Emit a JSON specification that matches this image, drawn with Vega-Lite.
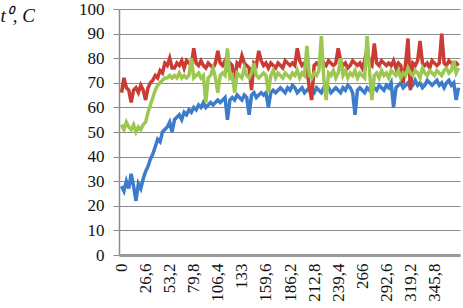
{
  "$schema": "https://vega.github.io/schema/vega-lite/v6.json",
  "width": 341,
  "height": 246,
  "autosize": "none",
  "padding": {"left": 119, "top": 9, "right": 3, "bottom": 53},
  "background": "white",
  "config": {
    "view": {"stroke": null},
    "axisY": {
      "grid": true, "gridColor": "#8c8c8c", "gridWidth": 1.2,
      "domainColor": "#8c8c8c", "domainWidth": 1.5,
      "tickColor": "#8c8c8c", "tickSize": 6,
      "labelFont": "Liberation Serif", "labelFontSize": 17, "labelColor": "#111", "labelPadding": 9,
      "titleAngle": 0, "titleAlign": "left", "titleBaseline": "alphabetic",
      "titleX": -119, "titleY": 12,
      "titleFont": "Liberation Serif", "titleFontStyle": "italic", "titleFontWeight": "normal",
      "titleFontSize": 19, "titleColor": "#111"
    },
    "axisX": {
      "grid": false, "domainColor": "#9a9a9a", "domainWidth": 3,
      "ticks": false,
      "labelAngle": 270, "labelAlign": "right", "labelBaseline": "middle",
      "labelFont": "Liberation Serif", "labelFontSize": 17, "labelColor": "#111", "labelPadding": 8,
      "labelOverlap": false, "labelFlush": false,
      "title": null
    }
  },
  "data": {"values": [
{"x":0,"red":66,"green":53,"blue":28},
{"x":2.66,"red":72,"green":51,"blue":26},
{"x":5.32,"red":68,"green":54,"blue":30},
{"x":7.98,"red":67,"green":52,"blue":27},
{"x":10.64,"red":62,"green":51,"blue":33},
{"x":13.3,"red":67,"green":53,"blue":28},
{"x":15.96,"red":68,"green":50,"blue":22},
{"x":18.62,"red":66,"green":52,"blue":29},
{"x":21.28,"red":69,"green":51,"blue":27},
{"x":23.94,"red":67,"green":53,"blue":31},
{"x":26.6,"red":63,"green":54,"blue":34},
{"x":29.26,"red":68,"green":58,"blue":36},
{"x":31.92,"red":70,"green":61,"blue":39},
{"x":34.58,"red":71,"green":64,"blue":41},
{"x":37.24,"red":73,"green":67,"blue":44},
{"x":39.9,"red":72,"green":69,"blue":47},
{"x":42.56,"red":75,"green":70,"blue":46},
{"x":45.22,"red":74,"green":71,"blue":50},
{"x":47.88,"red":78,"green":72,"blue":51},
{"x":50.54,"red":77,"green":72,"blue":52},
{"x":53.2,"red":80,"green":73,"blue":54},
{"x":55.86,"red":76,"green":72,"blue":50},
{"x":58.52,"red":76,"green":73,"blue":55},
{"x":61.18,"red":78,"green":72,"blue":56},
{"x":63.84,"red":77,"green":74,"blue":57},
{"x":66.5,"red":79,"green":72,"blue":55},
{"x":69.16,"red":76,"green":73,"blue":58},
{"x":71.82,"red":79,"green":72,"blue":57},
{"x":74.48,"red":78,"green":73,"blue":59},
{"x":77.14,"red":77,"green":80,"blue":58},
{"x":79.8,"red":84,"green":72,"blue":60},
{"x":82.46,"red":78,"green":73,"blue":59},
{"x":85.12,"red":77,"green":74,"blue":61},
{"x":87.78,"red":79,"green":72,"blue":60},
{"x":90.44,"red":77,"green":73,"blue":62},
{"x":93.1,"red":76,"green":62,"blue":60},
{"x":95.76,"red":78,"green":72,"blue":61},
{"x":98.42,"red":77,"green":73,"blue":62},
{"x":101.08,"red":76,"green":76,"blue":61},
{"x":103.74,"red":78,"green":72,"blue":62},
{"x":106.4,"red":83,"green":66,"blue":63},
{"x":109.06,"red":78,"green":73,"blue":62},
{"x":111.72,"red":77,"green":74,"blue":63},
{"x":114.38,"red":79,"green":73,"blue":64},
{"x":117.04,"red":76,"green":84,"blue":55},
{"x":119.7,"red":78,"green":72,"blue":63},
{"x":122.36,"red":77,"green":73,"blue":64},
{"x":125.02,"red":70,"green":66,"blue":63},
{"x":127.68,"red":78,"green":74,"blue":65},
{"x":130.34,"red":77,"green":73,"blue":64},
{"x":133,"red":81,"green":72,"blue":63},
{"x":135.66,"red":78,"green":76,"blue":65},
{"x":138.32,"red":77,"green":73,"blue":64},
{"x":140.98,"red":76,"green":72,"blue":57},
{"x":143.64,"red":67,"green":74,"blue":65},
{"x":146.3,"red":78,"green":78,"blue":66},
{"x":148.96,"red":77,"green":73,"blue":64},
{"x":151.62,"red":83,"green":72,"blue":65},
{"x":154.28,"red":79,"green":73,"blue":66},
{"x":156.94,"red":77,"green":74,"blue":65},
{"x":159.6,"red":78,"green":73,"blue":66},
{"x":162.26,"red":76,"green":66,"blue":60},
{"x":164.92,"red":78,"green":73,"blue":66},
{"x":167.58,"red":77,"green":75,"blue":67},
{"x":170.24,"red":76,"green":72,"blue":66},
{"x":172.9,"red":78,"green":74,"blue":67},
{"x":175.56,"red":77,"green":73,"blue":68},
{"x":178.22,"red":76,"green":72,"blue":67},
{"x":180.88,"red":79,"green":74,"blue":66},
{"x":183.54,"red":78,"green":73,"blue":68},
{"x":186.2,"red":77,"green":72,"blue":67},
{"x":188.86,"red":78,"green":74,"blue":69},
{"x":191.52,"red":77,"green":73,"blue":68},
{"x":194.18,"red":84,"green":75,"blue":66},
{"x":196.84,"red":79,"green":72,"blue":67},
{"x":199.5,"red":77,"green":74,"blue":68},
{"x":202.16,"red":78,"green":73,"blue":66},
{"x":204.82,"red":76,"green":85,"blue":67},
{"x":207.48,"red":68,"green":73,"blue":68},
{"x":210.14,"red":63,"green":72,"blue":67},
{"x":212.8,"red":77,"green":74,"blue":66},
{"x":215.46,"red":78,"green":73,"blue":68},
{"x":218.12,"red":77,"green":75,"blue":67},
{"x":220.78,"red":80,"green":89,"blue":66},
{"x":223.44,"red":78,"green":72,"blue":68},
{"x":226.1,"red":77,"green":63,"blue":67},
{"x":228.76,"red":79,"green":74,"blue":68},
{"x":231.42,"red":78,"green":73,"blue":66},
{"x":234.08,"red":77,"green":75,"blue":67},
{"x":236.74,"red":78,"green":72,"blue":68},
{"x":239.4,"red":84,"green":74,"blue":67},
{"x":242.06,"red":79,"green":80,"blue":66},
{"x":244.72,"red":77,"green":73,"blue":68},
{"x":247.38,"red":78,"green":75,"blue":67},
{"x":250.04,"red":76,"green":72,"blue":69},
{"x":252.7,"red":77,"green":74,"blue":68},
{"x":255.36,"red":79,"green":73,"blue":66},
{"x":258.02,"red":78,"green":75,"blue":57},
{"x":260.68,"red":77,"green":72,"blue":67},
{"x":263.34,"red":78,"green":74,"blue":68},
{"x":266,"red":76,"green":73,"blue":67},
{"x":268.66,"red":79,"green":72,"blue":66},
{"x":271.32,"red":84,"green":89,"blue":68},
{"x":273.98,"red":78,"green":75,"blue":67},
{"x":276.64,"red":77,"green":63,"blue":69},
{"x":279.3,"red":86,"green":73,"blue":68},
{"x":281.96,"red":78,"green":74,"blue":67},
{"x":284.62,"red":77,"green":72,"blue":69},
{"x":287.28,"red":79,"green":75,"blue":68},
{"x":289.94,"red":78,"green":73,"blue":67},
{"x":292.6,"red":77,"green":74,"blue":69},
{"x":295.26,"red":78,"green":72,"blue":68},
{"x":297.92,"red":77,"green":75,"blue":70},
{"x":300.58,"red":79,"green":74,"blue":60},
{"x":303.24,"red":76,"green":73,"blue":68},
{"x":305.9,"red":78,"green":75,"blue":69},
{"x":308.56,"red":77,"green":72,"blue":70},
{"x":311.22,"red":70,"green":74,"blue":68},
{"x":313.88,"red":78,"green":73,"blue":69},
{"x":316.54,"red":88,"green":76,"blue":70},
{"x":319.2,"red":67,"green":74,"blue":68},
{"x":321.86,"red":78,"green":73,"blue":69},
{"x":324.52,"red":77,"green":75,"blue":71},
{"x":327.18,"red":79,"green":74,"blue":69},
{"x":329.84,"red":87,"green":72,"blue":70},
{"x":332.5,"red":78,"green":76,"blue":68},
{"x":335.16,"red":77,"green":74,"blue":69},
{"x":337.82,"red":78,"green":73,"blue":71},
{"x":340.48,"red":76,"green":75,"blue":70},
{"x":343.14,"red":79,"green":74,"blue":69},
{"x":345.8,"red":78,"green":73,"blue":70},
{"x":348.46,"red":77,"green":75,"blue":71},
{"x":351.12,"red":78,"green":74,"blue":69},
{"x":353.78,"red":90,"green":73,"blue":70},
{"x":356.44,"red":78,"green":75,"blue":68},
{"x":359.1,"red":77,"green":76,"blue":70},
{"x":361.76,"red":79,"green":74,"blue":71},
{"x":364.42,"red":78,"green":75,"blue":69},
{"x":367.08,"red":77,"green":79,"blue":70},
{"x":369.74,"red":78,"green":74,"blue":63},
{"x":372.4,"red":77,"green":76,"blue":68}
  ]},
  "encoding": {
    "x": {"field": "x", "type": "quantitative", "scale": {"domain": [-2.8, 374], "nice": false, "zero": false},
      "axis": {"values": [0,26.6,53.2,79.8,106.4,133,159.6,186.2,212.8,239.4,266,292.6,319.2,345.8],
               "labelExpr": "replace(toString(datum.value), '.', ',')"}}
  },
  "layer": [
    {
      "mark": {"type": "line", "color": "#3d7cc9", "strokeWidth": 3.5},
      "encoding": {"y": {"field": "blue", "type": "quantitative", "scale": {"domain": [0, 100]}, "title": "t⁰, C",
        "axis": {"values": [0,10,20,30,40,50,60,70,80,90,100]}}}
    },
    {
      "mark": {"type": "line", "color": "#cc3b33", "strokeWidth": 3.5},
      "encoding": {"y": {"field": "red", "type": "quantitative", "scale": {"domain": [0, 100]}, "title": "t⁰, C",
        "axis": {"values": [0,10,20,30,40,50,60,70,80,90,100]}}}
    },
    {
      "mark": {"type": "line", "color": "#9dc84f", "strokeWidth": 3.5},
      "encoding": {"y": {"field": "green", "type": "quantitative", "scale": {"domain": [0, 100]}, "title": "t⁰, C",
        "axis": {"values": [0,10,20,30,40,50,60,70,80,90,100]}}}
    }
  ]
}
